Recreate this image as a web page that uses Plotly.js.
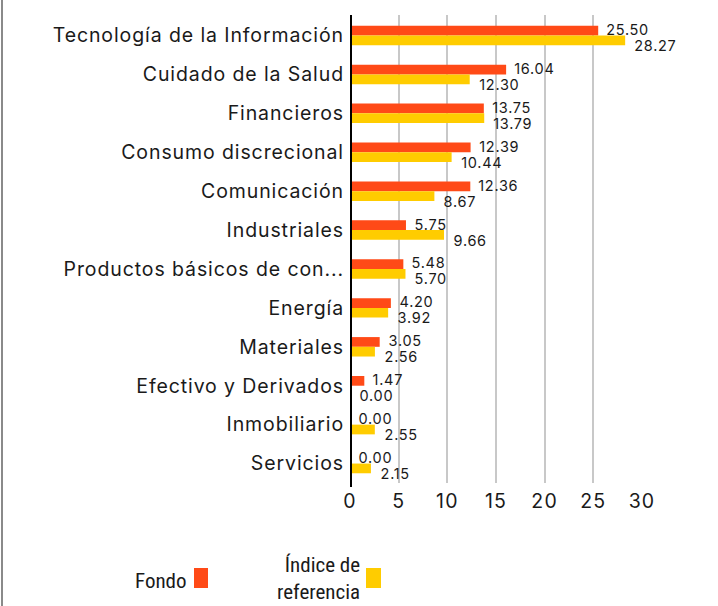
<!DOCTYPE html>
<html>
<head>
<meta charset="utf-8">
<script src="https://cdn.plot.ly/plotly-3.0.1.min.js"></script>
<style>
html,body{margin:0;padding:0;background:#fff;}
#wrap{position:relative;width:718px;height:606px;}
#chart{position:absolute;left:0;top:0;width:718px;height:606px;}
#edge{position:absolute;left:1px;top:0;width:2px;height:606px;background:#8a8a8a;z-index:5;}
#chart .ytick text{letter-spacing:0.9px;}
#chart .xtick text{letter-spacing:1.2px;}
#chart .annotation-text.val{letter-spacing:0.7px;}
</style>
</head>
<body>
<div id="wrap"><div id="chart"></div><div id="edge"></div></div>
<script>
const categories = ["Tecnología de la Información","Cuidado de la Salud","Financieros","Consumo discrecional","Comunicación","Industriales","Productos básicos de con...","Energía","Materiales","Efectivo y Derivados","Inmobiliario","Servicios"];
const fondo = [25.50,16.04,13.75,12.39,12.36,5.75,5.48,4.20,3.05,1.47,0.00,0.00];
const indice = [28.27,12.30,13.79,10.44,8.67,9.66,5.70,3.92,2.56,0.00,2.55,2.15];
const seriesNames = ["Fondo","Índice de<br>referencia"];
const xTicks = [0,5,10,15,20,25,30];

const RED = "#FF4A17", YEL = "#FFCC00";
const W = 718, H = 606, mL = 350, mR = 76, mT = 15, mB = 123;
const pw = W - mL - mR, ph = H - mT - mB;
const px = x => (x - mL) / pw;
const py = y => 1 - (y - mT) / ph;
const FONT = "Inter, 'Noto Sans', sans-serif";
const NARROW = "'Liberation Sans Narrow', 'Arial Narrow', 'Roboto Condensed', Roboto, sans-serif";

const traces = [
  {type:"bar", orientation:"h", name:"Fondo", y:categories, x:fondo, marker:{color:RED}, hoverinfo:"none"},
  {type:"bar", orientation:"h", name:"Índice de referencia", y:categories, x:indice, marker:{color:YEL}, hoverinfo:"none"}
];

const annotations = [];
categories.forEach((c,i)=>{
  annotations.push({x:fondo[i], y:c, xref:"x", yref:"y", text:fondo[i].toFixed(2), showarrow:false,
    xanchor:"left", yanchor:"middle", xshift:8, yshift:6, font:{family:FONT, size:14.5, color:"#1a1a1a"}});
  annotations.push({x:indice[i], y:c, xref:"x", yref:"y", text:indice[i].toFixed(2), showarrow:false,
    xanchor:"left", yanchor:"middle", xshift:9, yshift:-10, font:{family:FONT, size:14.5, color:"#1a1a1a"}});
});
const nVal = annotations.length;
// legend drawn manually (symbol to the right of the text)
annotations.push({x:px(189), y:py(581), xref:"paper", yref:"paper", text:seriesNames[0], showarrow:false,
  xanchor:"right", yanchor:"middle", font:{family:NARROW, size:21, color:"#1a1a1a"}});
annotations.push({x:px(362), y:py(578), xref:"paper", yref:"paper", text:seriesNames[1], showarrow:false,
  xanchor:"right", yanchor:"middle", align:"right", font:{family:NARROW, size:21, color:"#1a1a1a"}});

const shapes = [
  {type:"rect", xref:"paper", yref:"paper", x0:px(194), x1:px(208), y0:py(568), y1:py(588), fillcolor:RED, line:{width:0}},
  {type:"rect", xref:"paper", yref:"paper", x0:px(366), x1:px(381), y0:py(568), y1:py(588), fillcolor:YEL, line:{width:0}},
  {type:"line", xref:"x", yref:"paper", x0:0, x1:0, y0:1, y1:py(487), line:{color:"#000", width:4}}
];

const layout = {
  width:W, height:H,
  margin:{l:mL, r:mR, t:mT, b:mB, pad:0},
  paper_bgcolor:"#fff", plot_bgcolor:"#fff",
  showlegend:false,
  barmode:"group", bargap:0.5, bargroupgap:0,
  font:{family:FONT, color:"#1a1a1a"},
  xaxis:{range:[0,30], tickvals:xTicks, ticktext:xTicks.map(String), showgrid:true, gridcolor:"#c8c8c8", gridwidth:2,
    zeroline:false, showline:false, ticks:"", ticklabelstandoff:4, tickfont:{family:FONT, size:19.5, color:"#1a1a1a"}, fixedrange:true},
  yaxis:{type:"category", autorange:"reversed", showgrid:false, zeroline:false, showline:false, ticks:"",
    ticklabelstandoff:5, tickfont:{family:FONT, size:19.5, color:"#1a1a1a"}, fixedrange:true},
  annotations, shapes
};
Plotly.newPlot("chart", traces, layout, {displayModeBar:false, staticPlot:true}).then(gd=>{
  gd.querySelectorAll(".annotation").forEach((a,i)=>{ if(i<nVal){ const t=a.querySelector(".annotation-text"); if(t) t.classList.add("val"); }});
});
</script>
</body>
</html>
